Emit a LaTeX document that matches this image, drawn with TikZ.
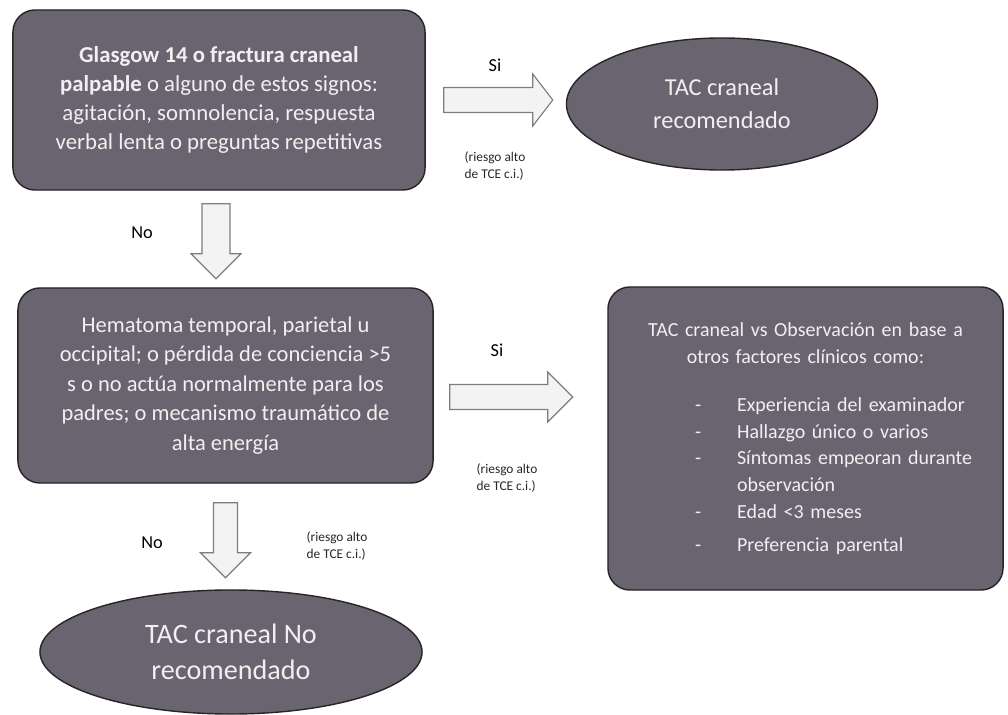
\documentclass[tikz,border=0pt]{standalone}
\usepackage{fontspec}
\setmainfont{Carlito}
\usetikzlibrary{calc,positioning,shapes.geometric}

\definecolor{cajagris}{RGB}{106,100,112}
\definecolor{flechagris}{RGB}{243,243,243}
\definecolor{bordegris}{RGB}{125,125,125}

\tikzset{
  paso/.style={draw=black!85, line width=1pt, fill=cajagris, rounded corners=0.55cm,
    text=white!94!black, align=center, inner sep=0pt},
  resultado/.style={ellipse, draw=black!85, line width=1pt, fill=cajagris,
    text=white!94!black, align=center, inner sep=0pt},
  flecha/.style={draw=bordegris, fill=flechagris, line width=0.8pt, line join=miter},
  rotulo/.style={font=\fontsize{13}{15}\selectfont},
  nota/.style={font=\fontsize{9.5}{12}\selectfont, align=left, text=black!85},
  % largo, medio cuerpo, media punta, largo punta
  pics/flechabloque/.style n args={4}{code={
    \draw[flecha] (0,-#2) -- ({#1-#4},-#2) -- ({#1-#4},-#3) -- (#1,0)
      -- ({#1-#4},#3) -- ({#1-#4},#2) -- (0,#2) -- cycle;}},
}
\newcommand{\guion}{\hspace*{1.64cm}\makebox[1.05cm][l]{-}}

\begin{document}
\begin{tikzpicture}[x=0.025cm, y=-0.025cm]
    \useasboundingbox (0,0) rectangle (1008,715);

    % cajas y elipses
    \node[paso, minimum width=10.3cm, minimum height=4.5cm,
      font=\fontsize{16.2}{20.6}\selectfont] (glasgow) at (219,100)
      {\textbf{Glasgow 14 o fractura craneal}\\ \textbf{palpable} o alguno de estos signos:\\
       agitación, somnolencia, respuesta\\ verbal lenta o preguntas repetitivas};
    \node[resultado, minimum width=7.775cm, minimum height=3.3cm,
      font=\fontsize{17.3}{23.5}\selectfont] (tacsi) at (722,104) {TAC craneal\\ recomendado};
    \node[paso, minimum width=10.375cm, minimum height=4.875cm,
      font=\fontsize{16}{21}\selectfont] (hematoma) at (225.5,385.5)
      {Hematoma temporal, parietal u\\ occipital; o pérdida de conciencia >5\\
       s o no actúa normalmente para los\\ padres; o mecanismo traumático de\\ alta energía};
    \node[paso, minimum width=9.875cm, minimum height=7.575cm, text width=8.8cm, align=left,
      font=\fontsize{14.2}{19.1}\selectfont] (observa) at (805.5,438.5)
      {{\centering TAC craneal vs Observación en base a\\ otros factores clínicos como:\par}
       \vspace{15pt}
       \guion Experiencia del examinador\\
       \guion Hallazgo único o varios\\
       \guion Síntomas empeoran durante\\
       \hspace*{2.69cm}observación\\
       \guion Edad <3 meses\\[4pt]
       \guion Preferencia parental};
    \node[resultado, minimum width=9.55cm, minimum height=3.1cm,
      font=\fontsize{20}{26}\selectfont] (tacno) at (231,652) {TAC craneal No\\ recomendado};

    % flechas
    \coordinate (c1) at ($(glasgow.east)+(18,0)$);
    \coordinate (c2) at ($(hematoma.east)+(16,11.5)$);
    \coordinate (c3) at ($(glasgow.south)+(-3,13)$);
    \coordinate (c4) at ($(hematoma.south)+(0,19)$);
    \pic (flecha1) at (c1) {flechabloque={109}{12.5}{26}{20}};
    \pic (flecha2) at (c2) {flechabloque={123}{12.5}{25}{25}};
    \pic[rotate=-90] (flecha3) at (c3) {flechabloque={75}{14}{25}{25}};
    \pic[rotate=-90] (flecha4) at (c4) {flechabloque={75}{12}{25}{25}};

    % rotulos
    \node[rotulo] (si1) at (495,65) {Si};
    \node[nota] (nota1) at (495,166) {(riesgo alto\\ de TCE c.i.)};
    \node[rotulo] (no1) at (142,233) {No};
    \node[rotulo] (si2) at (497,350) {Si};
    \node[nota] (nota2) at (507,478) {(riesgo alto\\ de TCE c.i.)};
    \node[rotulo] (no2) at (152,543) {No};
    \node[nota] (nota3) at (337,546) {(riesgo alto\\ de TCE c.i.)};
\end{tikzpicture}
\end{document}
